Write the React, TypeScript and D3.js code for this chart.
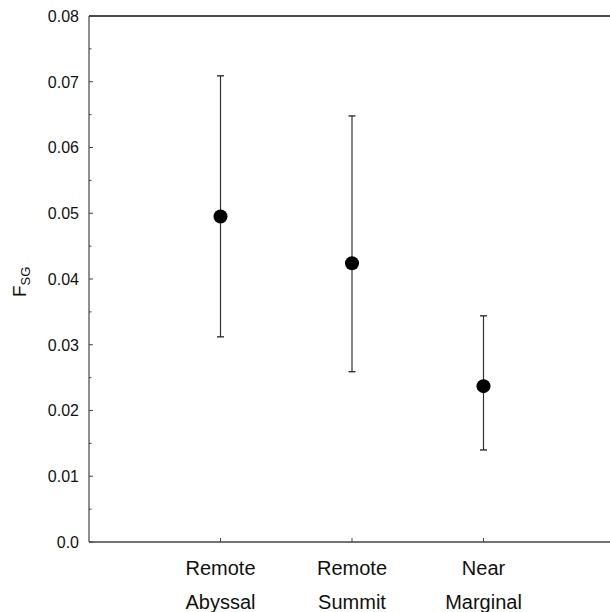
import { useMemo } from "react"
import * as d3 from "d3"

const categories = ["Remote|Abyssal", "Remote|Summit", "Near|Marginal"]
const means = [0.0495, 0.0424, 0.0237]
const upper = [0.0709, 0.0648, 0.0344]
const lower = [0.0312, 0.0259, 0.014]
const yTicks = [0, 0.01, 0.02, 0.03, 0.04, 0.05, 0.06, 0.07, 0.08]
const yTickLabels = ["0.0", "0.01", "0.02", "0.03", "0.04", "0.05", "0.06", "0.07", "0.08"]

const W = 610
const H = 612
const FONT = "'Liberation Sans', Arial, Helvetica, sans-serif"

export default function App() {
  const left = 89
  const top = 16
  const bottom = 542
  const right = left + (bottom - top)

  const x = useMemo(() => d3.scaleLinear().domain([0, categories.length + 1]).range([left, right]), [])
  const y = useMemo(() => d3.scaleLinear().domain([0, 0.08]).range([bottom, top]), [])
  const minor = d3.range(0.005, 0.08, 0.01)

  return (
    <svg
      width={W}
      height={H}
      style={{ position: "absolute", left: 0, top: 0, display: "block", background: "#fff" }}
      fontFamily={FONT}
    >
      {/* axes */}
      <line x1={left} x2={W} y1={top} y2={top} stroke="#111" strokeWidth={1.5} />
      <line x1={left} x2={W} y1={bottom} y2={bottom} stroke="#444" strokeWidth={1.5} />
      <line x1={left} x2={left} y1={top} y2={bottom} stroke="#444" strokeWidth={1.2} />

      {yTicks.map((t, i) => (
        <g key={t}>
          <line x1={left} x2={left + 4} y1={y(t)} y2={y(t)} stroke="#444" />
          <text x={79} y={y(t)} dy="0.36em" textAnchor="end" fontSize={16} fill="#111">
            {yTickLabels[i]}
          </text>
        </g>
      ))}
      {minor.map((t) => (
        <line key={t} x1={left} x2={left + 2.5} y1={y(t)} y2={y(t)} stroke="#444" />
      ))}

      {categories.map((c, i) => {
        const cx = x(i + 1)
        const [l1, l2] = c.split("|")
        return (
          <g key={c}>
            <line x1={cx} x2={cx} y1={bottom} y2={bottom - 4} stroke="#444" />
            <text x={cx} y={575} textAnchor="middle" fontSize={20} fill="#111">
              {l1}
            </text>
            <text x={cx} y={609} textAnchor="middle" fontSize={20} fill="#111">
              {l2}
            </text>
          </g>
        )
      })}

      {/* y label */}
      <text transform={`translate(26,${(top + bottom) / 2 + 18}) rotate(-90)`} fontSize={19} fill="#111">
        F
        <tspan fontSize={13} dy={4}>
          SG
        </tspan>
      </text>

      {/* error bars and points */}
      {categories.map((c, i) => {
        const cx = x(i + 1)
        return (
          <g key={c + "-bar"}>
            <line x1={cx} x2={cx} y1={y(upper[i])} y2={y(lower[i])} stroke="#333" strokeWidth={1.2} />
            <line x1={cx - 3.5} x2={cx + 3.5} y1={y(upper[i])} y2={y(upper[i])} stroke="#222" strokeWidth={1.3} />
            <line x1={cx - 3.5} x2={cx + 3.5} y1={y(lower[i])} y2={y(lower[i])} stroke="#222" strokeWidth={1.3} />
            <circle cx={cx} cy={y(means[i])} r={7} fill="#000" />
          </g>
        )
      })}
    </svg>
  )
}
